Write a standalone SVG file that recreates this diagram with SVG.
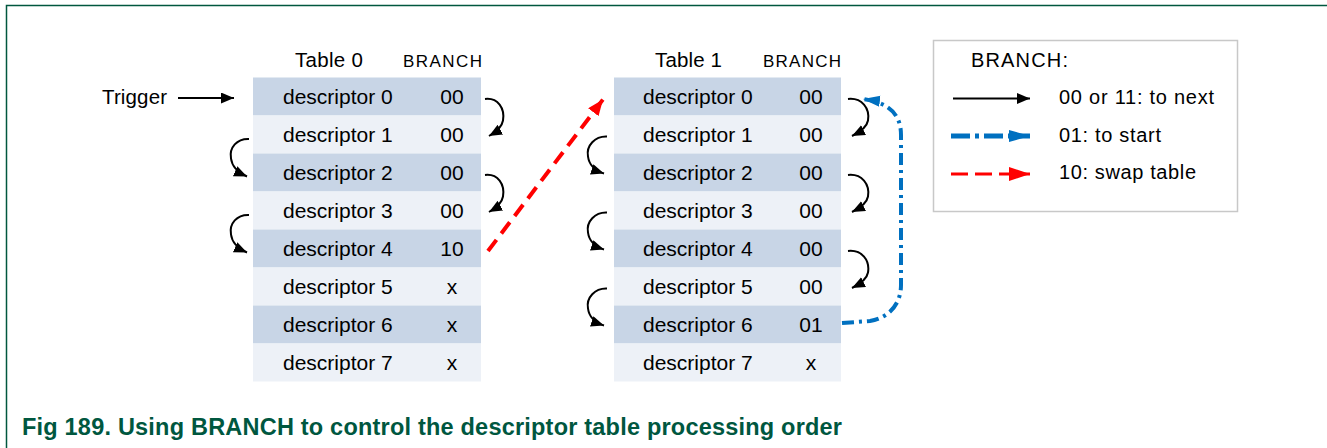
<svg xmlns="http://www.w3.org/2000/svg" width="1327" height="448" viewBox="0 0 1327 448">
<style>
text{font-family:"Liberation Sans",Arial,sans-serif;fill:#000}
.d{font-size:21px}
.h{font-size:20.5px}
.b{font-size:17px}
.lg{font-size:20px}
.v{font-size:21px;text-anchor:middle}
.cap{font-size:23.5px;font-weight:bold;fill:#00573F}
.dk{fill:#C8D5E6}
.lt{fill:#EDF1F7}
.cur{fill:none;stroke:#000;stroke-width:2}
</style>
<defs>
<marker id="ah" markerUnits="userSpaceOnUse" markerWidth="14" markerHeight="12" refX="13" refY="5.5" orient="auto" viewBox="0 0 14 12"><path d="M0,0 L13,5.5 L0,11 z" fill="#000"/></marker>
<marker id="ahb" markerUnits="userSpaceOnUse" markerWidth="18" markerHeight="12" refX="17" refY="5.5" orient="auto" viewBox="0 0 18 12"><path d="M0,0 L17,5.5 L0,11 z" fill="#0070C0"/></marker>
<marker id="ahr" markerUnits="userSpaceOnUse" markerWidth="17" markerHeight="14" refX="16" refY="6.5" orient="auto" viewBox="0 0 17 14"><path d="M0,0 L16,6.5 L0,13 z" fill="#FF0000"/></marker>
<marker id="ahbl" markerUnits="userSpaceOnUse" markerWidth="22" markerHeight="13" refX="21" refY="6" orient="auto" viewBox="0 0 22 13"><path d="M0,0 L21,6 L0,12 z" fill="#0070C0"/></marker>
<marker id="ahrl" markerUnits="userSpaceOnUse" markerWidth="22" markerHeight="15" refX="21" refY="7" orient="auto" viewBox="0 0 22 15"><path d="M0,0 L21,7 L0,14 z" fill="#FF0000"/></marker>
</defs>

<path d="M6.5,448 L6.5,5.5 L1327,5.5" fill="none" stroke="#00573F" stroke-width="1.5"/>

<g id="table0">
<text class="h" x="295" y="67" textLength="68" lengthAdjust="spacing">Table 0</text>
<text class="b" x="403" y="67" textLength="79" lengthAdjust="spacing">BRANCH</text>
<rect class="dk" x="253" y="77.5" width="228" height="38"/>
<rect class="lt" x="253" y="115.5" width="228" height="38"/>
<rect class="dk" x="253" y="153.5" width="228" height="38"/>
<rect class="lt" x="253" y="191.5" width="228" height="38"/>
<rect class="dk" x="253" y="229.5" width="228" height="38"/>
<rect class="lt" x="253" y="267.5" width="228" height="38"/>
<rect class="dk" x="253" y="305.5" width="228" height="38"/>
<rect class="lt" x="253" y="343.5" width="228" height="38"/>
<text class="d" x="283" y="104">descriptor 0</text>
<text class="d" x="283" y="142">descriptor 1</text>
<text class="d" x="283" y="180">descriptor 2</text>
<text class="d" x="283" y="218">descriptor 3</text>
<text class="d" x="283" y="256">descriptor 4</text>
<text class="d" x="283" y="294">descriptor 5</text>
<text class="d" x="283" y="332">descriptor 6</text>
<text class="d" x="283" y="370">descriptor 7</text>
<text class="v" x="452" y="104">00</text>
<text class="v" x="452" y="142">00</text>
<text class="v" x="452" y="180">00</text>
<text class="v" x="452" y="218">00</text>
<text class="v" x="452" y="256">10</text>
<text class="v" x="452" y="294">x</text>
<text class="v" x="452" y="332">x</text>
<text class="v" x="452" y="370">x</text>
</g>

<g id="table1">
<text class="h" x="655" y="67" textLength="67" lengthAdjust="spacing">Table 1</text>
<text class="b" x="763" y="67" textLength="78" lengthAdjust="spacing">BRANCH</text>
<rect class="dk" x="614" y="77.5" width="227" height="38"/>
<rect class="lt" x="614" y="115.5" width="227" height="38"/>
<rect class="dk" x="614" y="153.5" width="227" height="38"/>
<rect class="lt" x="614" y="191.5" width="227" height="38"/>
<rect class="dk" x="614" y="229.5" width="227" height="38"/>
<rect class="lt" x="614" y="267.5" width="227" height="38"/>
<rect class="dk" x="614" y="305.5" width="227" height="38"/>
<rect class="lt" x="614" y="343.5" width="227" height="38"/>
<text class="d" x="643" y="104">descriptor 0</text>
<text class="d" x="643" y="142">descriptor 1</text>
<text class="d" x="643" y="180">descriptor 2</text>
<text class="d" x="643" y="218">descriptor 3</text>
<text class="d" x="643" y="256">descriptor 4</text>
<text class="d" x="643" y="294">descriptor 5</text>
<text class="d" x="643" y="332">descriptor 6</text>
<text class="d" x="643" y="370">descriptor 7</text>
<text class="v" x="811" y="104">00</text>
<text class="v" x="811" y="142">00</text>
<text class="v" x="811" y="180">00</text>
<text class="v" x="811" y="218">00</text>
<text class="v" x="811" y="256">00</text>
<text class="v" x="811" y="294">00</text>
<text class="v" x="811" y="332">01</text>
<text class="v" x="811" y="370">x</text>
</g>

<g id="trigger">
<text class="h" x="102" y="104" textLength="65" lengthAdjust="spacing">Trigger</text>
</g>

<g id="legend">
<rect x="933.5" y="40.5" width="304" height="171" fill="#fff" stroke="#C8C8C8" stroke-width="1.5"/>
<text class="lg" x="971" y="67" textLength="97" lengthAdjust="spacing">BRANCH:</text>
<line x1="953" y1="98.5" x2="1030" y2="98.5" stroke="#000" stroke-width="2" marker-end="url(#ah)"/>
<text class="lg" x="1059" y="104" textLength="155" lengthAdjust="spacing">00 or 11: to next</text>
<line x1="951" y1="136" x2="1030" y2="136" stroke="#0070C0" stroke-width="5" stroke-dasharray="19 5 4 5" marker-end="url(#ahbl)"/>
<text class="lg" x="1059" y="142" textLength="102" lengthAdjust="spacing">01: to start</text>
<line x1="951" y1="174" x2="1030" y2="174" stroke="#FF0000" stroke-width="3" stroke-dasharray="17 7" marker-end="url(#ahrl)"/>
<text class="lg" x="1059" y="179" textLength="137" lengthAdjust="spacing">10: swap table</text>
</g>

<g id="connectors">
<line x1="178" y1="98" x2="234" y2="98" stroke="#000" stroke-width="2" marker-end="url(#ah)"/>
<path class="cur" marker-end="url(#ah)" d="M485,99 C498,97.5 505,108.5 503,120.5 C502,126.5 497,131.5 489,136"/>
<path class="cur" marker-end="url(#ah)" d="M485,175 C498,173.5 505,184.5 503,196.5 C502,202.5 497,207.5 489,212"/>
<path class="cur" marker-end="url(#ah)" d="M249,139 C237,138.5 229,147.5 231,158.5 C232,166.5 238,172.5 247,176.5"/>
<path class="cur" marker-end="url(#ah)" d="M249,215 C237,214.5 229,223.5 231,234.5 C232,242.5 238,248.5 247,252.5"/>
<path class="cur" marker-end="url(#ah)" d="M848,99 C862,97.5 870,108.5 868,120.5 C867,126.5 861,131.5 852,136"/>
<path class="cur" marker-end="url(#ah)" d="M848,175 C862,173.5 870,184.5 868,196.5 C867,202.5 861,207.5 852,212"/>
<path class="cur" marker-end="url(#ah)" d="M848,251 C862,249.5 870,260.5 868,272.5 C867,278.5 861,283.5 852,288"/>
<path class="cur" marker-end="url(#ah)" d="M607,136.5 C595,136 586,145.5 588,156.5 C589,164.5 595,170.5 604,173.5"/>
<path class="cur" marker-end="url(#ah)" d="M607,212.5 C595,212 586,221.5 588,232.5 C589,240.5 595,246.5 604,249.5"/>
<path class="cur" marker-end="url(#ah)" d="M607,288.5 C595,288 586,297.5 588,308.5 C589,316.5 595,322.5 604,325.5"/>
<line x1="488" y1="251" x2="603" y2="99.5" stroke="#FF0000" stroke-width="4" stroke-dasharray="14 8" marker-end="url(#ahr)"/>
<path d="M842,323 L870,321 C888,318 901,305 901,285 L901,135 C901,118 893,103 863,99" fill="none" stroke="#0070C0" stroke-width="4" stroke-dasharray="12 5 3 5" marker-end="url(#ahb)"/>
</g>

<text class="cap" x="22" y="435" textLength="820" lengthAdjust="spacing">Fig 189. Using BRANCH to control the descriptor table processing order</text>
</svg>
